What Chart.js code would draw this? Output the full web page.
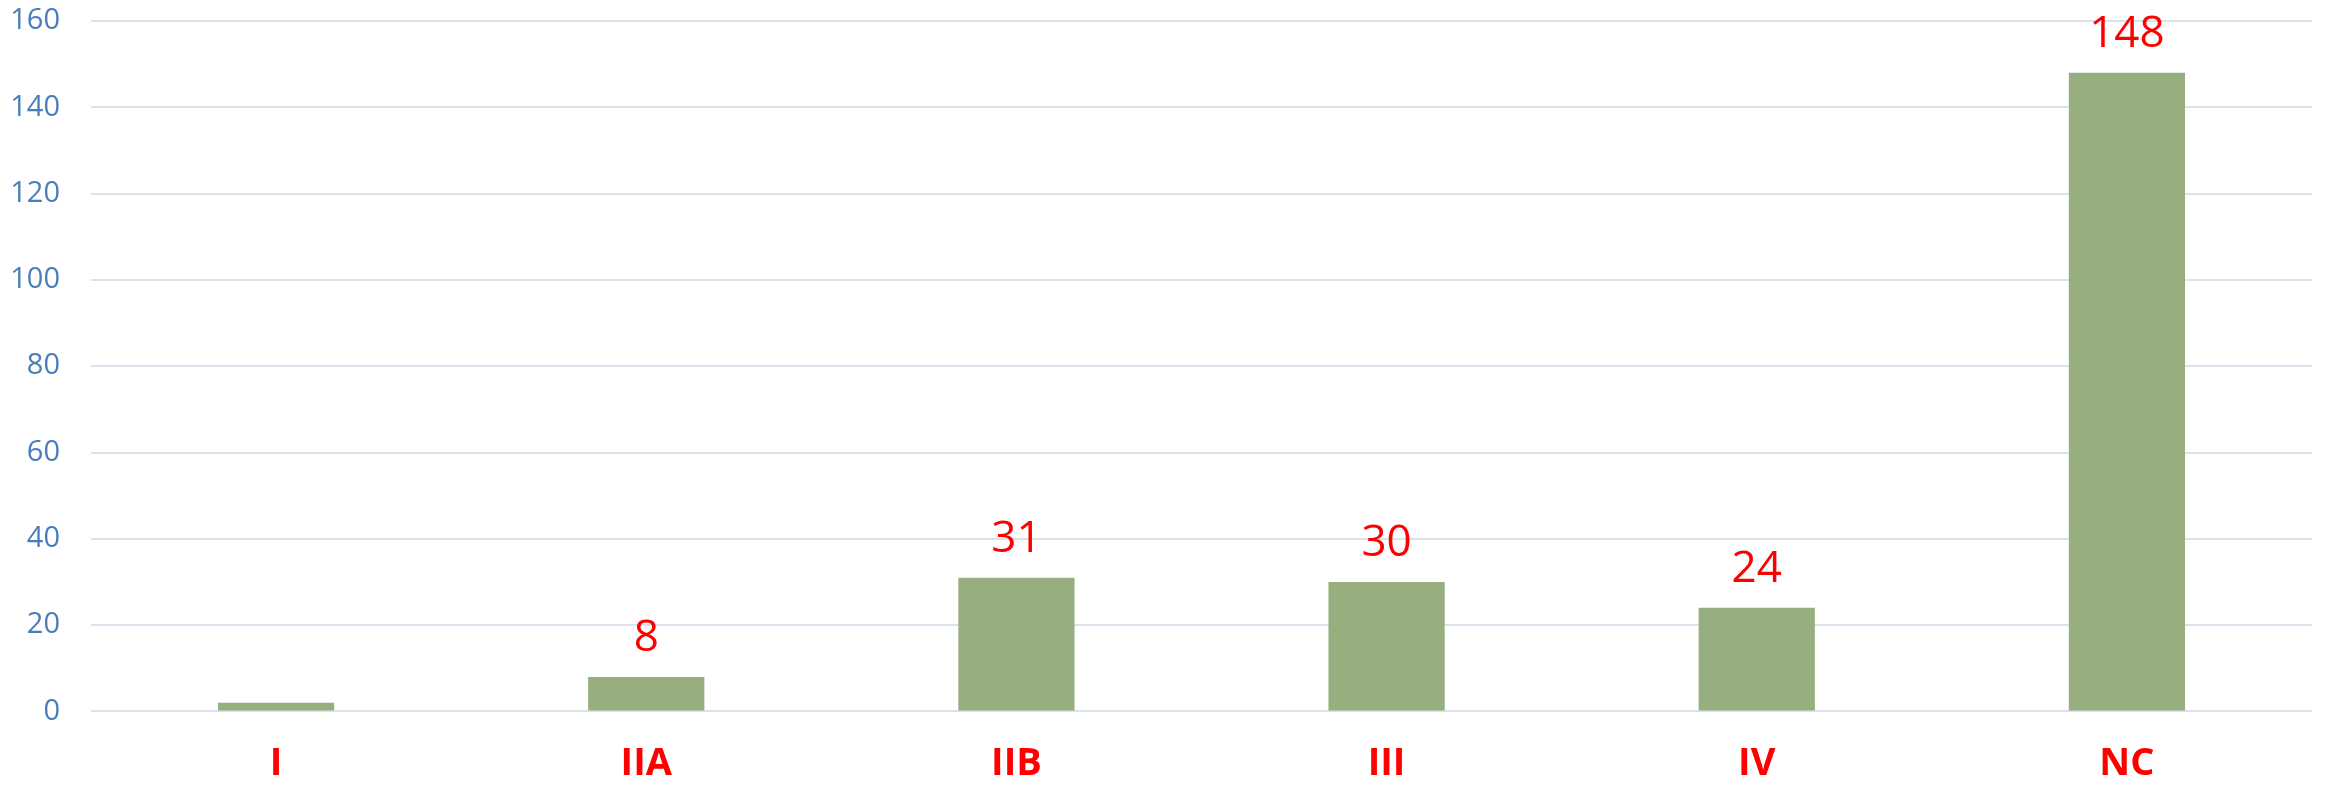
<!DOCTYPE html>
<html>
  <head>
    <style>
      * {
        margin: 0;
        padding: 0;
      }
      body {
        background: #ffffff;
        overflow: hidden;
      }
      .chartBox {
        width: 2325px;
        height: 787px;
      }
    </style>
  </head>
  <body>
    <div class="chartBox">
      <canvas id="myChart"></canvas>
    </div>
    <script src="https://cdn.jsdelivr.net/npm/chart.js/dist/chart.umd.min.js"></script>
    <script>
      const stages = ["I", "IIA", "IIB", "III", "IV", "NC"];
      const counts = [2, 8, 31, 30, 24, 148];
      const shownLabels = [null, "8", "31", "30", "24", "148"];
      const yTicks = [0, 20, 40, 60, 80, 100, 120, 140, 160];

      // values above bars
      const valueLabels = {
        id: "valueLabels",
        afterDatasetsDraw(chart) {
          const ctx = chart.ctx;
          const meta = chart.getDatasetMeta(0);
          ctx.save();
          ctx.fillStyle = "#ff0000";
          ctx.font = "44px 'Open Sans'";
          ctx.textAlign = "center";
          ctx.textBaseline = "alphabetic";
          meta.data.forEach((bar, i) => {
            if (shownLabels[i] === null) return;
            ctx.fillText(shownLabels[i], bar.x, bar.y - 26);
          });
          ctx.restore();
        },
      };

      const data = {
        labels: stages,
        datasets: [
          {
            data: counts,
            backgroundColor: "#97af7f",
            borderWidth: 0,
            barPercentage: 0.314,
            categoryPercentage: 1,
          },
        ],
      };

      const config = {
        type: "bar",
        data,
        options: {
          responsive: false,
          animation: false,
          layout: {
            padding: { top: 21, right: 13, left: 0, bottom: 0 },
          },
          plugins: {
            legend: { display: false },
            tooltip: { enabled: false },
          },
          scales: {
            x: {
              grid: {
                color: "rgba(0,0,0,0)",
                drawTicks: true,
                tickLength: 30,
                tickColor: "rgba(0,0,0,0)",
              },
              border: { display: false },
              ticks: {
                color: "#ff0000",
                padding: 0,
                font: { family: "'Open Sans'", size: 38, weight: "bold" },
              },
            },
            y: {
              min: 0,
              max: 160,
              afterBuildTicks: (axis) => {
                axis.ticks = yTicks.map((v) => ({ value: v }));
              },
              afterFit: (axis) => {
                axis.width = 91;
              },
              grid: {
                color: "#d9e3ee",
                lineWidth: 2,
                drawTicks: true,
                tickLength: 31,
                tickColor: "rgba(0,0,0,0)",
              },
              border: { display: false },
              ticks: {
                color: "#4a7ebb",
                padding: 0,
                font: { family: "'Open Sans'", size: 29 },
              },
            },
          },
        },
        plugins: [valueLabels],
      };

      const canvas = document.getElementById("myChart");
      canvas.width = 2325;
      canvas.height = 787;
      const myChart = new Chart(canvas, config);
    </script>
  </body>
</html>
